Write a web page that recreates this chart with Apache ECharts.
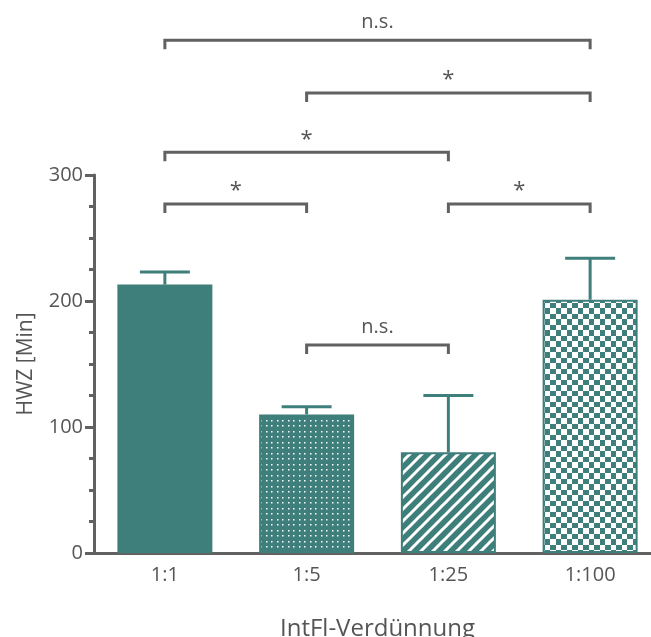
<!DOCTYPE html>
<html><head><meta charset="utf-8">
<script src="https://cdn.jsdelivr.net/npm/echarts@6/dist/echarts.min.js"></script>
<style>html,body{margin:0;padding:0;background:#fff;overflow:hidden}#c{width:651px;height:637px}</style>
</head><body><div id="c"></div>
<script>
const categories = ['1:1', '1:5', '1:25', '1:100'];
const means = [213, 110, 80, 201];
const upperErr = [223, 116, 125, 234];
// [fromIndex, toIndex, level, label]
const brackets = [
  [0, 1, 277, '*'],
  [0, 2, 318, '*'],
  [1, 3, 365, '*'],
  [0, 3, 407, 'n.s.'],
  [2, 3, 277, '*'],
  [1, 2, 165, 'n.s.']
];
const yTicks = [0, 100, 200, 300];

const TEAL = '#3e7f7b';
const GRAY = '#616161';
const TXT = '#555555';
const FONT = '"Open Sans", "Noto Sans", sans-serif';

function mk(w, h, draw) {
  const c = document.createElement('canvas'); c.width = w; c.height = h;
  const g = c.getContext('2d'); g.fillStyle = TEAL; g.fillRect(0, 0, w, h); draw(g); return c;
}
const dots = mk(11, 11, g => {
  g.fillStyle = '#ffffff';
  [[2,2],[7,2],[2,7],[7,7]].forEach(p => g.fillRect(p[0], p[1], 1.5, 1.5));
});
const stripes = mk(12, 12, g => {
  g.strokeStyle = '#ffffff'; g.lineWidth = 3;
  [[-12,12,12,-12],[0,12,12,0],[0,24,24,0]].forEach(l => { g.beginPath(); g.moveTo(l[0], l[1]); g.lineTo(l[2], l[3]); g.stroke(); });
});
const checks = mk(11, 11, g => {
  g.fillStyle = '#ffffff'; g.fillRect(0, 0, 6, 6); g.fillRect(6, 6, 5, 5);
});
const fills = [TEAL, {image: dots, repeat: 'repeat'}, {image: stripes, repeat: 'repeat'}, {image: checks, repeat: 'repeat'}];

const chart = echarts.init(document.getElementById('c'), null, {renderer: 'canvas', width: 651, height: 637});
chart.setOption({
  animation: false,
  grid: {left: 94, right: -10, top: 175, bottom: 84, containLabel: false, outerBoundsMode: 'none'},
  xAxis: {
    type: 'category', data: categories,
    axisLine: {lineStyle: {color: GRAY, width: 3}},
    axisTick: {alignWithLabel: true, length: 7, lineStyle: {color: GRAY, width: 3}},
    axisLabel: {color: TXT, fontSize: 20, fontFamily: FONT, margin: 12},
    name: 'IntFl-Verdünnung', nameLocation: 'middle', nameGap: 64,
    nameTextStyle: {color: TXT, fontSize: 24, fontFamily: FONT}
  },
  yAxis: {
    type: 'value', min: yTicks[0], max: yTicks[yTicks.length - 1], interval: 100,
    axisLine: {show: true, lineStyle: {color: GRAY, width: 3}},
    axisTick: {show: true, length: 9, lineStyle: {color: GRAY, width: 3}},
    minorTick: {show: true, splitNumber: 4, length: 5, lineStyle: {color: GRAY, width: 3}},
    splitLine: {show: false},
    axisLabel: {color: TXT, fontSize: 20, fontFamily: FONT, margin: 11},
    name: 'HWZ [Min]', nameLocation: 'middle', nameGap: 57, nameRotate: 90,
    nameTextStyle: {color: TXT, fontSize: 21, fontFamily: FONT}
  },
  series: [
    {
      type: 'bar', barWidth: 95,
      data: means.map((v, i) => ({value: v, itemStyle: {color: fills[i], borderColor: TEAL, borderWidth: i === 0 ? 0 : 2}})),
      z: 2
    },
    {
      type: 'custom', z: 3,
      data: means.map((v, i) => [i, v, upperErr[i]]),
      renderItem: function (params, api) {
        const p0 = api.coord([api.value(0), api.value(1)]);
        const p1 = api.coord([api.value(0), api.value(2)]);
        const hw = 25;
        return {type: 'group', children: [
          {type: 'line', shape: {x1: p0[0], y1: p0[1], x2: p1[0], y2: p1[1]}, style: {stroke: TEAL, lineWidth: 3}},
          {type: 'line', shape: {x1: p1[0] - hw, y1: p1[1], x2: p1[0] + hw, y2: p1[1]}, style: {stroke: TEAL, lineWidth: 3}}
        ]};
      }
    },
    {
      type: 'custom', z: 4, clip: false,
      data: brackets,
      renderItem: function (params, api) {
        const a = api.coord([api.value(0), api.value(2)]);
        const b = api.coord([api.value(1), api.value(2)]);
        const lbl = brackets[params.dataIndex][3];
        const drop = 9;
        return {type: 'group', children: [
          {type: 'polyline', shape: {points: [[a[0], a[1] + drop], [a[0], a[1]], [b[0], a[1]], [b[0], a[1] + drop]]},
           style: {stroke: GRAY, lineWidth: 3, fill: null}},
          {type: 'text', x: (a[0] + b[0]) / 2, y: a[1] - (lbl === '*' ? 2 : 8),
           style: {text: lbl, align: 'center', verticalAlign: 'bottom', fill: TXT,
                   font: (lbl === '*' ? '22px ' : '20px ') + FONT}}
        ]};
      }
    }
  ]
});
</script></body></html>
